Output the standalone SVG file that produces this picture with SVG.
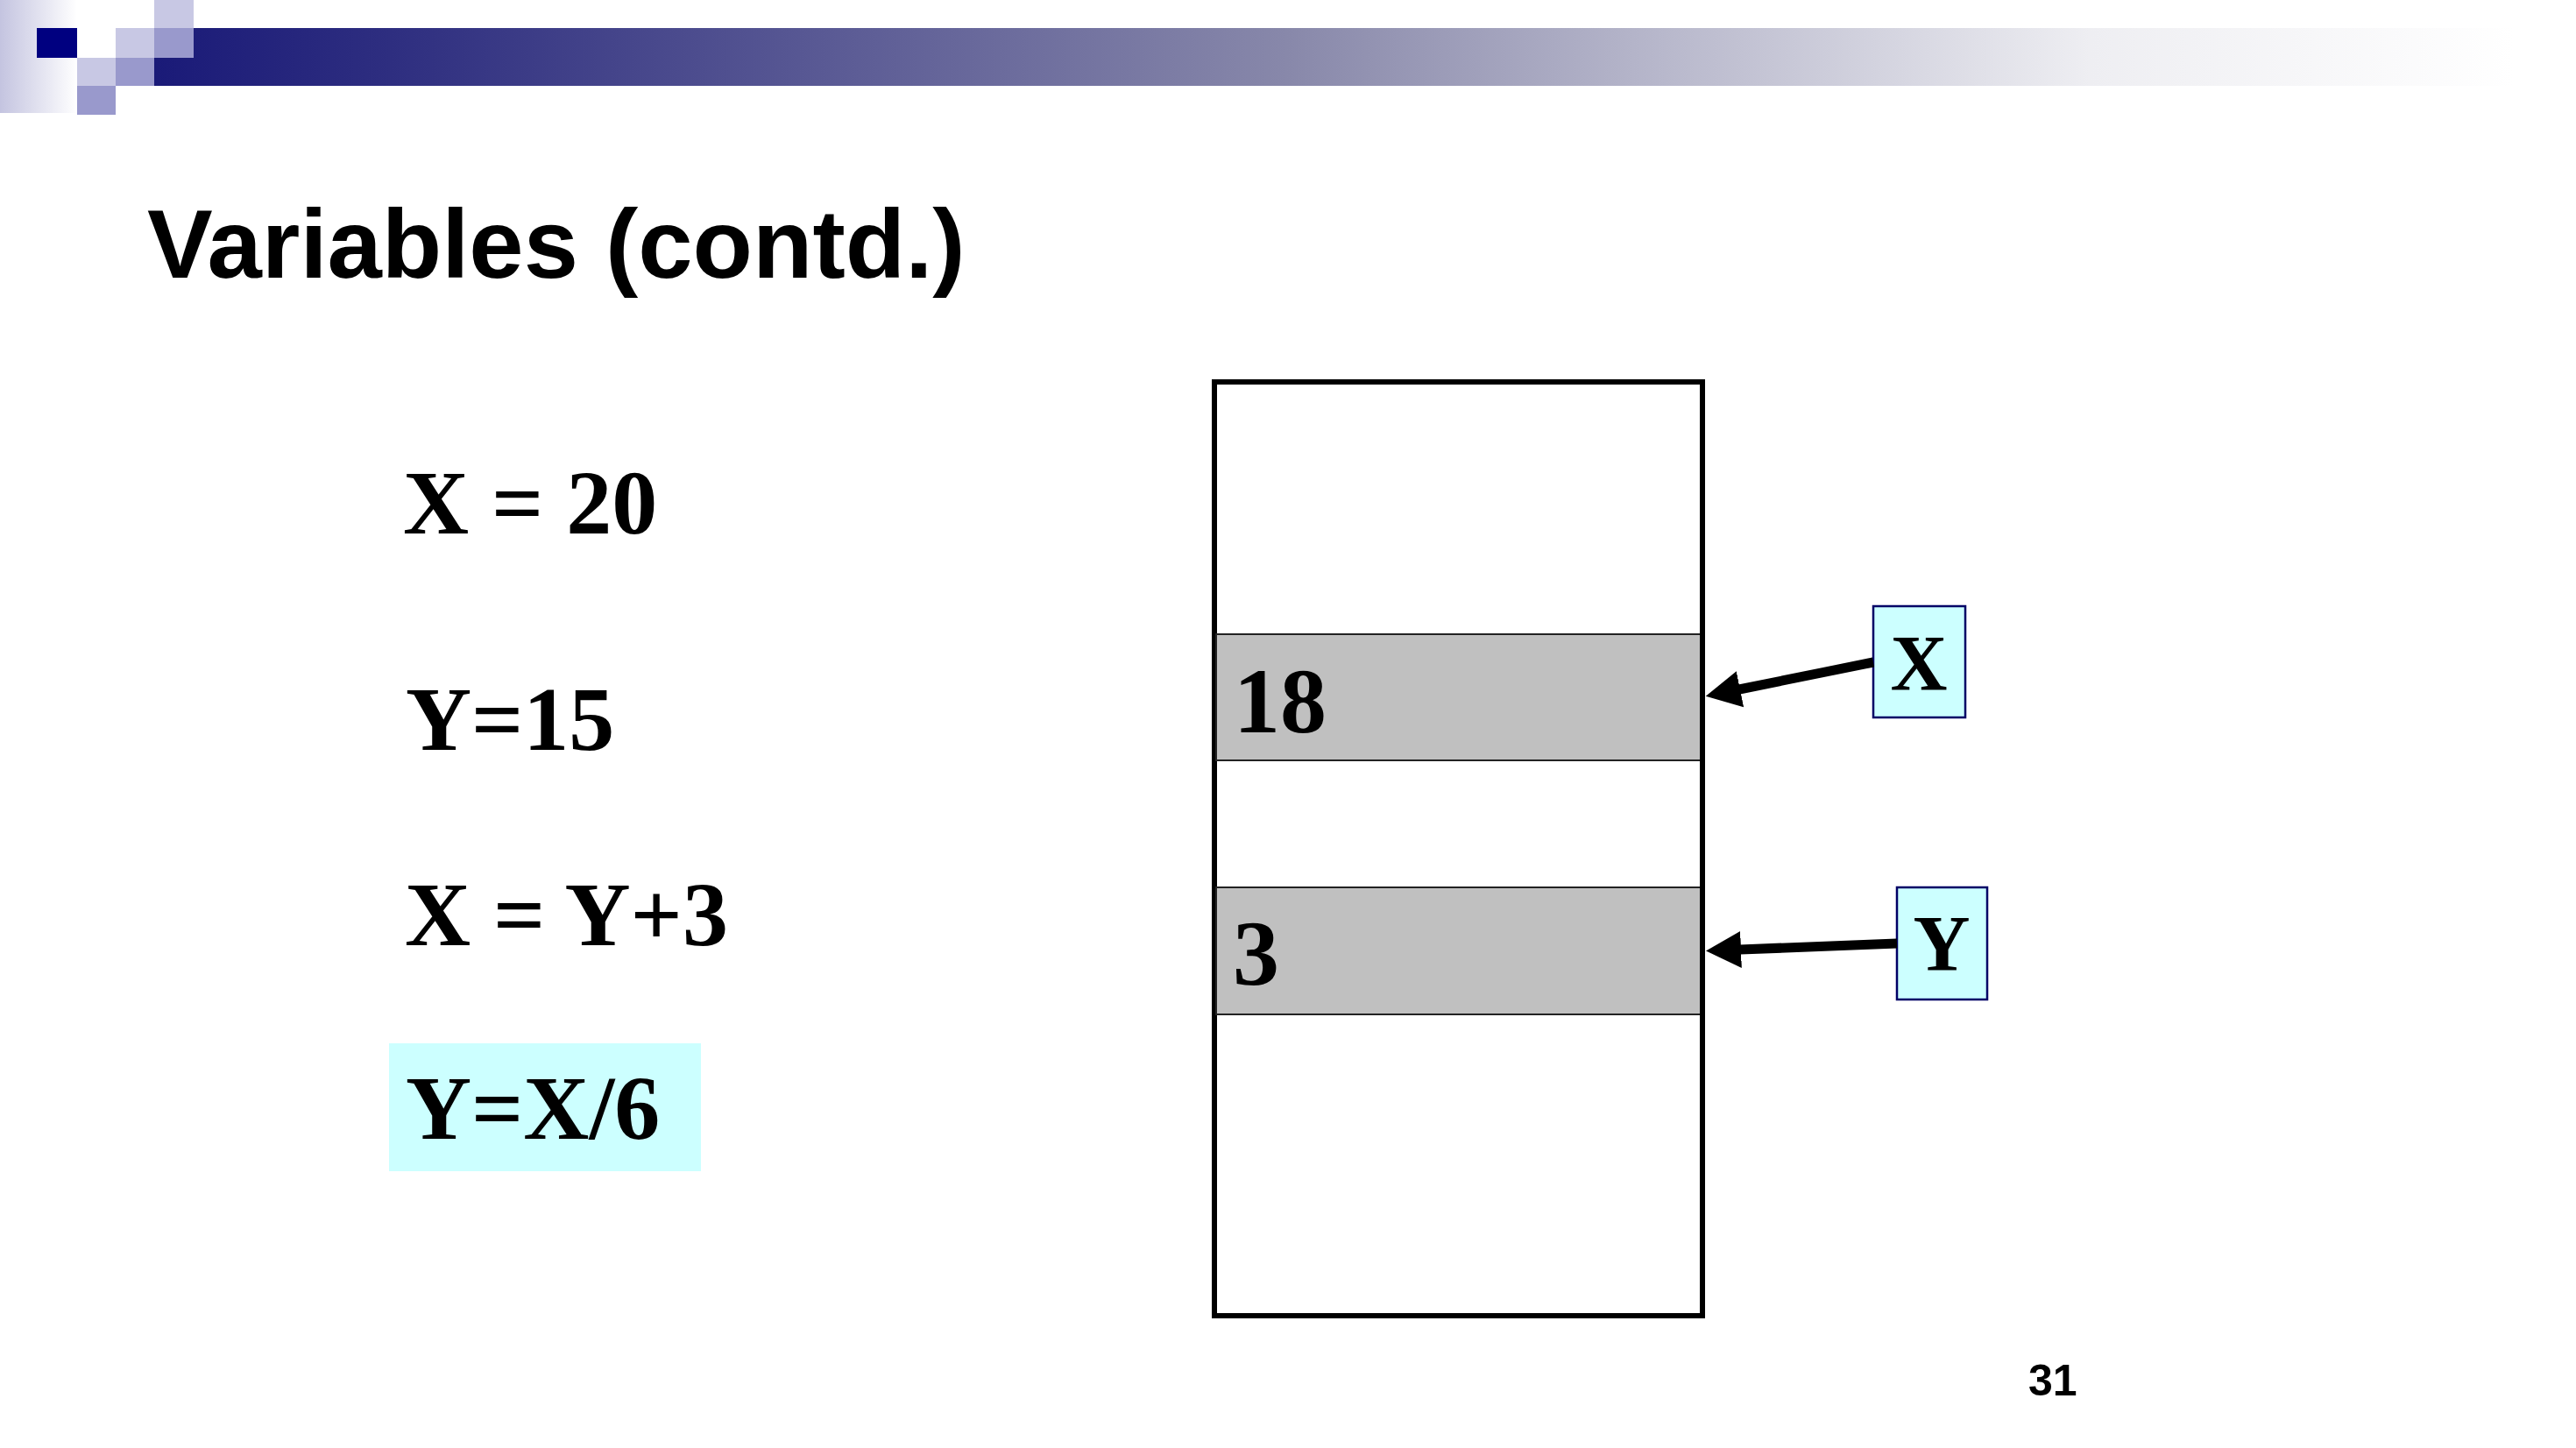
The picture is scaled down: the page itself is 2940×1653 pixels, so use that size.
<svg xmlns="http://www.w3.org/2000/svg" width="2940" height="1653" viewBox="0 0 2940 1653">
<defs>
<style>
.title{font-family:"Liberation Sans",Arial,sans-serif;font-weight:bold;font-size:112px;fill:#000}
.eq{font-family:"Liberation Serif","Times New Roman",serif;font-weight:bold;font-size:104px;fill:#000}
.val{font-family:"Liberation Serif","Times New Roman",serif;font-weight:bold;font-size:106px;fill:#000}
.lbl{font-family:"Liberation Serif","Times New Roman",serif;font-weight:bold;font-size:90px;fill:#000}
.pg{font-family:"Liberation Sans",Arial,sans-serif;font-weight:bold;font-size:50px;fill:#000}
.cell{fill:#c0c0c0;stroke:#222;stroke-width:2}
.tag{fill:#ccffff;stroke:#000066;stroke-width:2.5}
.conn{stroke:#000;stroke-width:11;fill:none}
.sq1{fill:#c8c8e4}
.sq2{fill:#9999cc}
</style>
<linearGradient id="barGrad" x1="176" y1="0" x2="2870" y2="0" gradientUnits="userSpaceOnUse">
<stop offset="0" stop-color="#1a1a78"/>
<stop offset="0.1" stop-color="#2e2e80"/>
<stop offset="0.48" stop-color="#8888aa"/>
<stop offset="0.82" stop-color="#eeeef2"/>
<stop offset="1" stop-color="#ffffff"/>
</linearGradient>
<linearGradient id="stripGrad" x1="0" y1="0" x2="1" y2="0">
<stop offset="0" stop-color="#c4c4e0"/>
<stop offset="1" stop-color="#ffffff"/>
</linearGradient>
<marker id="head" markerUnits="userSpaceOnUse" markerWidth="42" markerHeight="42" viewBox="0 0 42 42" refX="1" refY="21" orient="auto">
<path d="M0,0 L40,21 L0,42 z" fill="#000"/>
</marker>
</defs>
<rect width="2940" height="1653" fill="#fff"/>
<g id="header">
<rect x="0" y="0" width="88" height="129" fill="url(#stripGrad)"/>
<rect x="176" y="32" width="2700" height="66" fill="url(#barGrad)"/>
<rect x="42" y="32" width="46" height="34" fill="#000080"/>
<rect class="sq1" x="176" y="0" width="45" height="32"/>
<rect class="sq1" x="132" y="32" width="44" height="34"/>
<rect class="sq2" x="176" y="32" width="45" height="34"/>
<rect class="sq1" x="88" y="66" width="44" height="32"/>
<rect class="sq2" x="132" y="66" width="44" height="32"/>
<rect class="sq2" x="88" y="98" width="44" height="33"/>
</g>
<text class="title" x="168" y="317">Variables (contd.)</text>
<g id="code">
<text class="eq" x="460" y="609">X = 20</text>
<text class="eq" x="463" y="856">Y=15</text>
<text class="eq" x="462" y="1079">X = Y+3</text>
<rect x="444" y="1191" width="356" height="146" fill="#ccffff"/>
<text class="eq" x="463" y="1300">Y=X/6</text>
</g>
<g id="memory">
<rect x="1386" y="436" width="557" height="1066" fill="#fff" stroke="#000" stroke-width="6"/>
<g id="cell-x">
<rect class="cell" x="1388" y="724" width="553" height="144"/>
<text class="val" x="1408" y="836">18</text>
</g>
<g id="cell-y">
<rect class="cell" x="1388" y="1013" width="553" height="145"/>
<text class="val" x="1407" y="1124">3</text>
</g>
<line x1="1943" y1="436" x2="1943" y2="1502" stroke="#000" stroke-width="6"/>
</g>
<g id="label-x">
<rect class="tag" x="2138" y="692" width="105" height="127"/>
<text class="lbl" x="2190" y="788" text-anchor="middle">X</text>
</g>
<g id="label-y">
<rect class="tag" x="2165" y="1013" width="103" height="128"/>
<text class="lbl" x="2216" y="1108" text-anchor="middle">Y</text>
</g>
<g id="connectors">
<line class="conn" x1="2138" y1="756" x2="1985" y2="787" marker-end="url(#head)"/>
<line class="conn" x1="2165" y1="1077" x2="1986" y2="1084" marker-end="url(#head)"/>
</g>
<text class="pg" x="2315" y="1593">31</text>
</svg>
